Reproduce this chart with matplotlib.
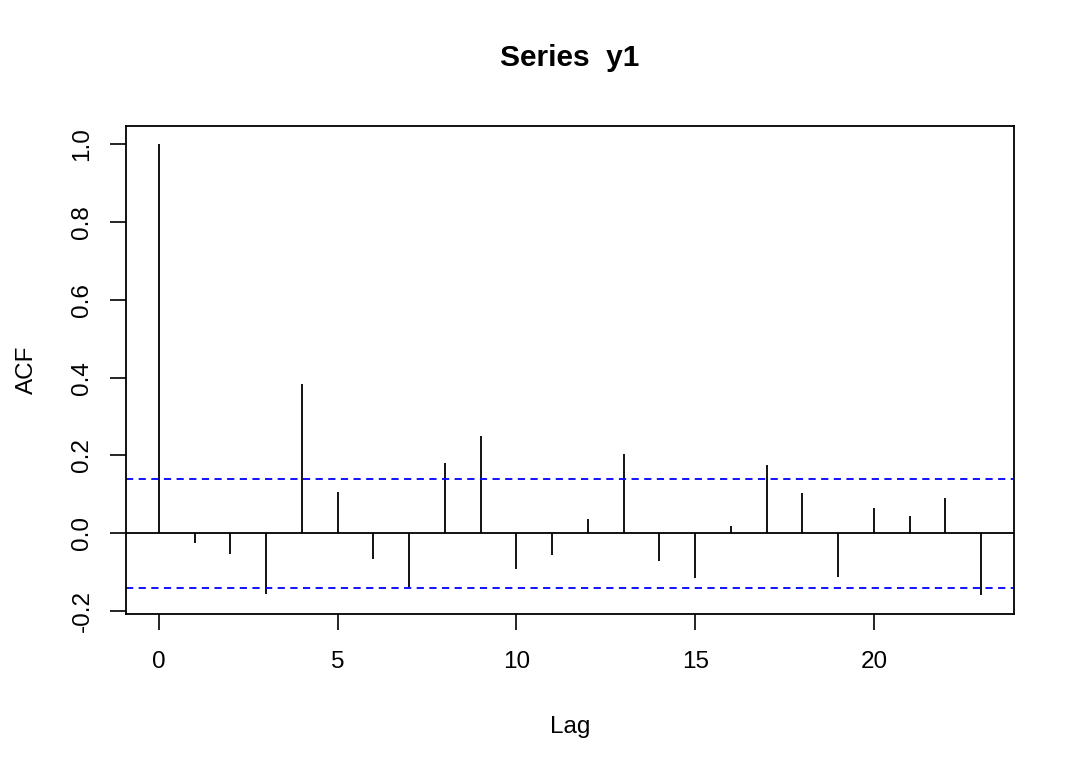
import matplotlib.pyplot as plt

plt.rcParams['font.family'] = ['Liberation Sans', 'DejaVu Sans']

# autocorrelation values
lags = list(range(24))
acf = [1.0, -0.026, -0.053, -0.156, 0.384, 0.106, -0.067, -0.138,
       0.180, 0.251, -0.091, -0.055, 0.036, 0.203, -0.070, -0.114,
       0.020, 0.175, 0.104, -0.111, 0.065, 0.045, 0.090, -0.158]
ci = 0.140
xticks = [0, 5, 10, 15, 20]
yticks = [-0.2, 0.0, 0.2, 0.4, 0.6, 0.8, 1.0]

fig = plt.figure(figsize=(10.8, 7.71), dpi=100)
ax = fig.add_axes([0.1167, 0.2040, 0.8222, 0.6326])

ax.vlines(lags, 0, acf, color='black', linewidth=1.3)
ax.axhline(0, color='black', linewidth=1.3)
ax.axhline(ci, color='#0000ff', linestyle=(0, (4, 3)), linewidth=1.3)
ax.axhline(-ci, color='#0000ff', linestyle=(0, (4, 3)), linewidth=1.3)

ax.set_xlim(-0.92, 23.92)
ax.set_ylim(-0.2064, 1.0464)
ax.set_xticks(xticks)
ax.set_yticks(yticks)
ax.set_xticklabels([str(t) for t in xticks])
ax.set_yticklabels(['%.1f' % t for t in yticks], rotation=90, va='center')
ax.tick_params(direction='out', length=11.5, width=1.2, labelsize=17.5, pad=12)
ax.tick_params(axis='x', pad=15)
for s in ax.spines.values():
    s.set_linewidth(1.3)

ax.set_xlabel('Lag', fontsize=17.5, labelpad=31)
ax.set_ylabel('ACF', fontsize=17.5, labelpad=24)
ax.set_title('Series  y1', fontsize=21.5, fontweight='bold', pad=43)

fig.savefig('out.png', dpi=100)
